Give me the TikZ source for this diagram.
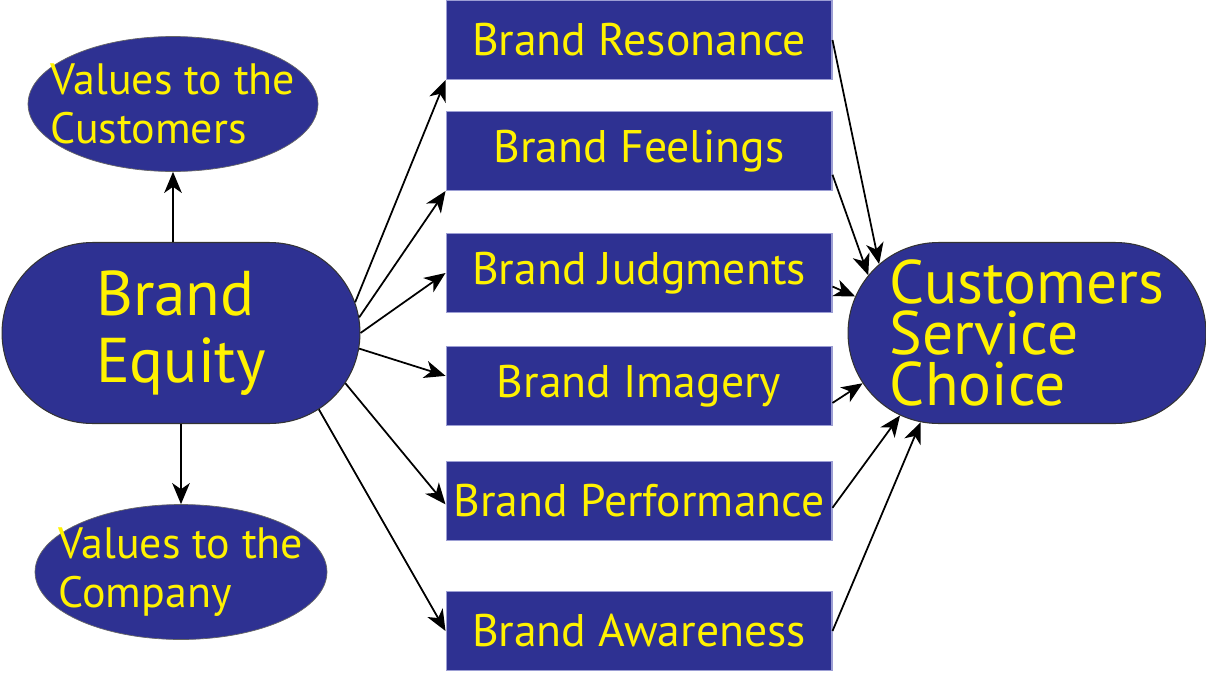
\documentclass[tikz,border=0pt]{standalone}
\usepackage{fontspec}
\setmainfont{PT Sans}
\usetikzlibrary{arrows.meta,shapes.geometric,shapes.misc}
\definecolor{navy}{HTML}{2E3192}
\definecolor{lemon}{HTML}{FFF200}
\definecolor{lilac}{HTML}{9C9ED4}
\tikzset{
  box/.style={rectangle, fill=navy, draw=lilac, line width=0.6pt, text=lemon,
    minimum width=7.72cm, minimum height=1.58cm, inner sep=0pt,
    font=\fontsize{26}{28}\selectfont},
  pill/.style={rounded rectangle, fill=navy, draw=black!80, line width=0.6pt,
    text=lemon, minimum width=7.16cm, minimum height=3.62cm, inner sep=0pt,
    align=left},
  oval/.style={ellipse, fill=navy, draw=black!60, line width=0.4pt, text=lemon,
    minimum height=2.7cm, inner xsep=-0.5cm, inner ysep=0pt, align=left,
    font=\fontsize{25}{28}\selectfont}
}
\begin{document}
\begin{tikzpicture}[x=0.02cm, y=-0.02cm, ->, >={Stealth[length=12pt,width=10pt,inset=3.5pt]}, line width=1pt]
\useasboundingbox (0,0) rectangle (1206,673);
\node[pill, font=\fontsize{36}{38.5}\selectfont] (equity) at (181,333) {Brand\\Equity};
\node[oval, minimum width=5.8cm] (customers) at (173,104) {Values to the\\Customers};
\node[oval, minimum width=5.84cm] (company) at (181,572) {Values to the\\Company};
\node[box] (resonance) at (639,40) {Brand Resonance};
\node[box] (feelings) at (639,151) {Brand Feelings};
\node[box] (judgments) at (639,273) {Brand Judgments};
\node[box] (imagery) at (639,386) {Brand Imagery};
\node[box] (performance) at (639,501) {Brand Performance};
\node[box] (awareness) at (639,631) {Brand Awareness};
\node[pill, font=\fontsize{35}{29}\selectfont] (choice) at (1027,333) {Customers\\Service\\Choice};
\draw (equity.north -| customers.south) -- (customers.south);
\draw (equity.south) -- (company.north);
\draw (equity.10.8) -- (resonance.south west);
\draw (equity.5.8) -- (feelings.south west);
\draw (equity.east) -- (judgments.west);
\draw (equity.-5.5) -- (imagery.177.6);
\draw (equity.-17.7) -- (performance.181.2);
\draw (equity.-29.5) -- (awareness.west);
\draw (resonance.east) -- (choice.155.4);
\draw (feelings.-7.4) -- (choice.160.7);
\draw (judgments.-4.4) -- (choice.168.5);
\draw (imagery.-5.6) -- (choice.-163.1);
\draw (performance.-2.4) -- (choice.-147.8);
\draw (awareness.east) -- (choice.-140.7);
\end{tikzpicture}
\end{document}
